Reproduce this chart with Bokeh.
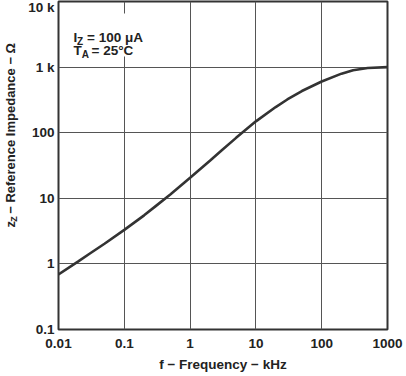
from bokeh.plotting import figure
from bokeh.models import FixedTicker, Label, BoxAnnotation, Range1d
from bokeh.layouts import row
from bokeh.core.properties import value
from bokeh.embed import file_html
from bokeh.resources import INLINE
import math

# data
freq_khz = [0.01, 0.02, 0.03, 0.05, 0.1, 0.2, 0.3, 0.5, 1, 2, 3, 5, 10, 20, 30, 50, 100, 200, 300, 500, 1000]
z_ohm = [0.69, 1.09, 1.44, 2.03, 3.3, 5.5, 7.6, 11.4, 20.5, 37.4, 53.4, 83.4, 149, 246, 321, 432, 603, 795, 897, 968, 1000]

x_ticks = [0.01, 0.1, 1, 10, 100, 1000]
x_tick_labels = ["0.01", "0.1", "1", "10", "100", "1000"]
y_ticks = [0.1, 1, 10, 100, 1000, 10000]
y_tick_labels = ["0.1", "1", "10", "100", "1 k", "10 k"]

FONT = "Liberation Sans"
DARK = "#333333"
TXT = "#222222"
TW = 20  # width of the y-title strip

# ---- y-axis title strip (rotated text with subscript) ----
t = figure(width=TW, height=376, x_range=Range1d(0, TW), y_range=Range1d(0, 376),
           output_backend="svg", toolbar_location=None,
           x_axis_location=None, y_axis_location=None,
           min_border=0, outline_line_color=None)
t.grid.visible = False
a = math.pi / 2
common = dict(angle=a, text_font=value(FONT), text_font_style="bold", text_color=TXT,
              text_baseline="alphabetic", text_align="left")
t.text(x=[11], y=[376 - 259], text=["z"], text_font_size="13px", **common)
t.text(x=[14], y=[376 - 252.5], text=["Z"], text_font_size="9px", **common)
t.text(x=[11], y=[376 - 243.4], text=["− Reference Impedance − Ω"], text_font_size="13px", **common)

# ---- main chart ----
p = figure(width=406 - TW, height=376, x_axis_type="log", y_axis_type="log",
           x_range=(0.01, 1000), y_range=(0.1, 10000),
           output_backend="svg", toolbar_location=None,
           min_border_left=59 - TW, min_border_right=18, min_border_top=2, min_border_bottom=46)
p.background_fill_color = "white"
p.border_fill_color = "white"
p.outline_line_color = DARK
p.outline_line_width = 2

p.xaxis.ticker = FixedTicker(ticks=x_ticks, minor_ticks=[])
p.yaxis.ticker = FixedTicker(ticks=y_ticks, minor_ticks=[])
p.xaxis.major_label_overrides = {t_: l for t_, l in zip(x_ticks, x_tick_labels)}
p.yaxis.major_label_overrides = {t_: l for t_, l in zip(y_ticks, y_tick_labels)}
for ax in (p.xaxis, p.yaxis):
    ax.major_tick_in = 0
    ax.major_tick_out = 0
    ax.minor_tick_in = 0
    ax.minor_tick_out = 0
    ax.axis_line_color = None
    ax.major_label_text_font = FONT
    ax.major_label_text_font_style = "bold"
    ax.major_label_text_font_size = "13.5px"
    ax.major_label_text_color = TXT
p.xaxis.major_label_standoff = 9
p.yaxis.major_label_standoff = 4
p.xaxis.axis_label = "f − Frequency − kHz"
p.xaxis.axis_label_text_font = FONT
p.xaxis.axis_label_text_font_style = "bold"
p.xaxis.axis_label_text_font_size = "13.5px"
p.xaxis.axis_label_text_color = TXT
p.xaxis.axis_label_standoff = 6

p.xgrid.ticker = FixedTicker(ticks=x_ticks, minor_ticks=[])
p.ygrid.ticker = FixedTicker(ticks=y_ticks, minor_ticks=[])
p.grid.grid_line_color = "#555555"
p.grid.grid_line_width = 1

p.line(freq_khz, z_ohm, line_color=DARK, line_width=2.6)

# annotation box (screen units relative to frame: x from left, y from bottom)
p.add_layout(BoxAnnotation(left=2, right=106, top=316, bottom=273,
                           left_units="screen", right_units="screen",
                           top_units="screen", bottom_units="screen",
                           fill_color="white", fill_alpha=1, line_color=None, level="underlay"))

def lab(x, y, txt, size="13.5px"):
    p.add_layout(Label(x=x, y=y, x_units="screen", y_units="screen", text=txt,
                       text_font=FONT, text_font_style="bold", text_font_size=size,
                       text_color=TXT, text_baseline="middle", text_align="left"))

# I_Z = 100 uA
lab(15, 292, "I")
lab(18.5, 288.5, "Z", size="10px")
lab(28.5, 292, "= 100 μA")
# T_A = 25 C
lab(15, 279, "T")
lab(23.3, 275.5, "A", size="10px")
lab(33, 279, "= 25°C")

layout = row(t, p, spacing=0)
layout.styles = {"margin-left": "-1px", "margin-top": "-1px"}

open("out.html", "w").write(file_html(layout, INLINE))
